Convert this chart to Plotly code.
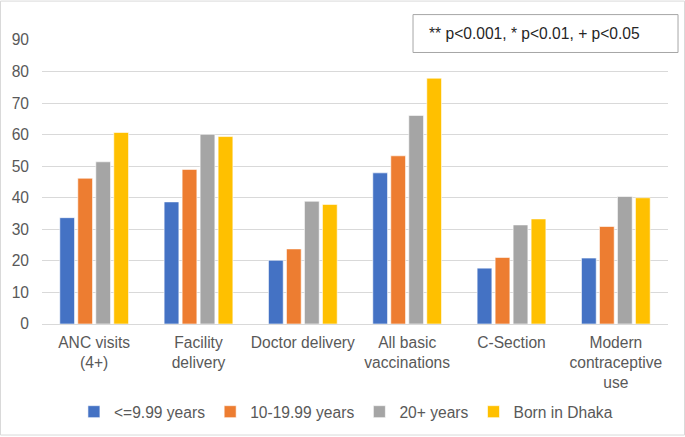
import plotly.graph_objects as go

# categories (x axis) and series
categories = ["ANC visits<br>(4+)", "Facility<br>delivery", "Doctor delivery",
              "All basic<br>vaccinations", "C-Section", "Modern<br>contraceptive<br>use"]
series_names = ["<=9.99 years", "10-19.99 years", "20+ years", "Born in Dhaka"]
under_10 = [33.7, 38.7, 20.2, 47.9, 17.7, 20.9]
from_10_to_20 = [46.2, 49.0, 23.8, 53.3, 21.1, 30.9]
over_20 = [51.4, 60.1, 38.9, 66.1, 31.4, 40.4]
born_dhaka = [60.7, 59.4, 37.9, 77.9, 33.3, 40.0]
y_ticks = [0, 10, 20, 30, 40, 50, 60, 70, 80, 90]
note_text = "** p<0.001, * p<0.01, + p<0.05"

colors = ["#4472C4", "#ED7D31", "#A5A5A5", "#FFC000"]
values = [under_10, from_10_to_20, over_20, born_dhaka]
FS = 15.6

fig = go.Figure()
for name, vals, col in zip(series_names, values, colors):
  fig.add_trace(go.Bar(
    x=categories, y=vals, name=name,
    marker=dict(color=col, line=dict(color="white", width=0.6)),
  ))

fig.update_layout(
  width=685, height=437,
  margin=dict(l=42, r=17, t=39.5, b=112.5, autoexpand=False),
  paper_bgcolor="white", plot_bgcolor="white",
  font=dict(family="Liberation Sans, Arial", size=FS, color="#595959"),
  barmode="group", bargap=0.31, bargroupgap=0.18,
  showlegend=True,
  legend=dict(orientation="h", x=0.051, xanchor="left", y=-0.31, yanchor="middle",
              font=dict(size=FS, color="#595959"), itemwidth=30, traceorder="normal"),
  xaxis=dict(showgrid=False, showline=True, linecolor="#D9D9D9", linewidth=1,
             ticks="", ticklabelstandoff=4, automargin=False,
             tickfont=dict(size=FS, color="#595959")),
  yaxis=dict(range=[0, 90], tickvals=y_ticks, showgrid=True, gridcolor="#D9D9D9",
             gridwidth=1, zeroline=False, showline=False, ticks="",
             ticklabelstandoff=12, automargin=False,
             tickfont=dict(size=FS, color="#595959")),
)

# outer chart border
fig.add_shape(type="rect", xref="paper", yref="paper",
              x0=-0.0663, x1=1.0264, y0=-0.391, y1=1.137,
              line=dict(color="#D9D9D9", width=1), layer="below")

# p-value note box
fig.add_shape(type="rect", xref="paper", yref="paper",
              x0=0.5927, x1=1.016, y0=0.956, y1=1.0895,
              line=dict(color="#A6A6A6", width=1), fillcolor="white")
fig.add_annotation(xref="paper", yref="paper", x=0.615, y=1.0228,
                   xanchor="left", yanchor="middle", showarrow=False,
                   text=note_text, font=dict(size=FS, color="#262626"))

# page body has a default margin; drop it so the figure fills the window
fig.write_html("out.html", config={"displayModeBar": False},
               post_script="document.body.style.margin='0';")
